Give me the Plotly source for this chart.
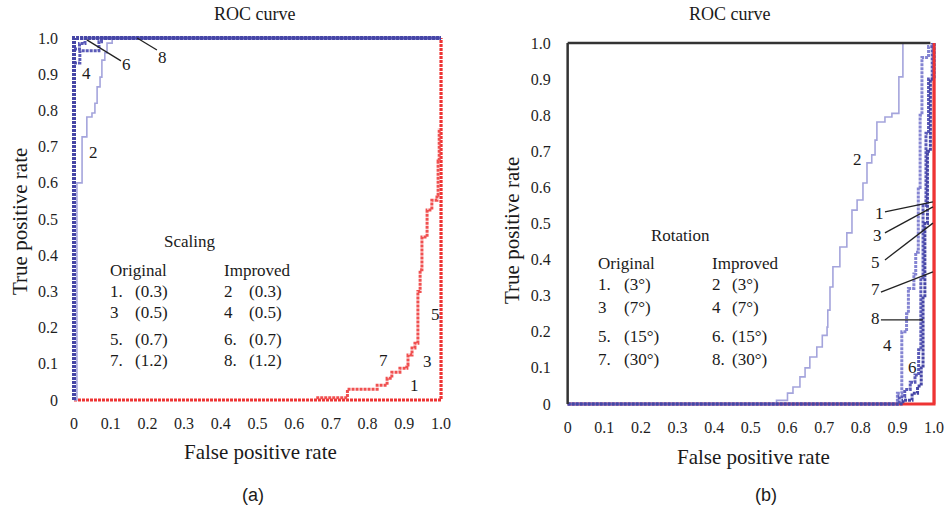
import plotly.graph_objects as go

# ---------------- data ----------------
TICK_VALS = [0, 0.1, 0.2, 0.3, 0.4, 0.5, 0.6, 0.7, 0.8, 0.9, 1.0]
TICK_TEXT = ["0", "0.1", "0.2", "0.3", "0.4", "0.5", "0.6", "0.7", "0.8", "0.9", "1.0"]

# Panel (a) Scaling
a_orig1_fpr = [0, 1.0, 1.0]
a_orig1_tpr = [0, 0, 1.0]
a_orig7_fpr = [0.66, 0.745, 0.826, 0.853, 0.866, 0.888, 0.907, 0.91, 0.921, 0.929, 0.937, 0.943, 0.948, 0.962, 0.975, 0.989, 0.992, 0.995]
a_orig7_tpr = [0.006, 0.03, 0.041, 0.06, 0.077, 0.088, 0.097, 0.124, 0.144, 0.157, 0.30, 0.36, 0.45, 0.525, 0.552, 0.566, 0.66, 0.75]
a_imp8_fpr = [0, 0, 1.0]
a_imp8_tpr = [0, 1.0, 1.0]
a_imp2_fpr = [0, 0.008, 0.022, 0.035, 0.049, 0.057, 0.063, 0.071, 0.076, 0.084, 0.09, 0.104, 1.0]
a_imp2_tpr = [0, 0.6, 0.727, 0.782, 0.793, 0.82, 0.865, 0.892, 0.939, 0.959, 0.986, 1.0, 1.0]
a_imp4_fpr = [0, 0.016, 0.068, 0.075, 1.0]
a_imp4_tpr = [0.931, 0.965, 0.99, 1.0, 1.0]
a_imp6_fpr = [0, 0.015, 0.03, 1.0]
a_imp6_tpr = [0.97, 0.985, 1.0, 1.0]

# Panel (b) Rotation
b_orig_fpr = [0, 1.0, 1.0]
b_orig_tpr = [0, 0, 1.0]
b_imp2_fpr = [0, 0.57, 0.6, 0.615, 0.634, 0.648, 0.661, 0.68, 0.695, 0.708, 0.71, 0.716, 0.724, 0.743, 0.762, 0.776, 0.79, 0.806, 0.817, 0.83, 0.839, 0.844, 0.866, 0.885, 0.904, 0.915]
b_imp2_tpr = [0, 0.01, 0.03, 0.047, 0.075, 0.1, 0.13, 0.158, 0.19, 0.213, 0.26, 0.324, 0.38, 0.435, 0.474, 0.537, 0.565, 0.612, 0.668, 0.69, 0.731, 0.781, 0.795, 0.805, 0.906, 1.0]
b_imp4_fpr = [0, 0.9, 0.912, 0.925, 0.93, 0.945, 0.95, 0.957, 0.962, 0.967, 0.985, 1.0]
b_imp4_tpr = [0, 0.03, 0.2, 0.25, 0.32, 0.36, 0.42, 0.6, 0.8, 0.96, 0.99, 1.0]
b_imp6_fpr = [0, 0.905, 0.92, 0.935, 0.948, 0.958, 0.964, 0.97, 0.978, 0.985, 0.995]
b_imp6_tpr = [0, 0.02, 0.04, 0.06, 0.08, 0.15, 0.35, 0.55, 0.75, 0.9, 1.0]
b_imp8_fpr = [0, 0.88, 0.915, 0.94, 0.955, 0.965, 0.97, 0.975, 0.982, 0.99, 1.0]
b_imp8_tpr = [0, 0.0, 0.01, 0.03, 0.05, 0.1, 0.3, 0.5, 0.7, 0.9, 1.0]

# legend text
a_nums_orig = ["1.", "3", "5.", "7."]
a_vals_orig = ["(0.3)", "(0.5)", "(0.7)", "(1.2)"]
a_nums_imp = ["2", "4", "6.", "8."]
a_vals_imp = ["(0.3)", "(0.5)", "(0.7)", "(1.2)"]
b_nums_orig = ["1.", "3", "5.", "7."]
b_vals_orig = ["(3°)", "(7°)", "(15°)", "(30°)"]
b_nums_imp = ["2", "4", "6.", "8."]
b_vals_imp = ["(3°)", "(7°)", "(15°)", "(30°)"]

# ---------------- style ----------------
SERIF = "Liberation Serif"
SANS = "Liberation Sans"
RED = "#ee3434"
RED_DOT = "#f05050"
BLUE = "#4646a6"
BLUE_MID = "#5a5ab8"
BLUE_LIGHT = "#8484d2"
LAVENDER = "#a4a4dc"
DOT = "3px,1px"
FS_TICK = 16
FS_LEG = 17
FS_LAB = 17

fig = go.Figure()

def add(x, y, color, width, dash="solid", xa="x", ya="y", shape="hv"):
    fig.add_trace(go.Scatter(x=x, y=y, mode="lines", xaxis=xa, yaxis=ya,
                             line=dict(color=color, width=width, dash=dash, shape=shape),
                             showlegend=False, hoverinfo="skip"))

# Panel (a)
add(a_orig1_fpr, a_orig1_tpr, RED, 3.2, DOT, shape="linear")
add(a_orig7_fpr, a_orig7_tpr, RED_DOT, 3, DOT)
add(a_imp2_fpr, a_imp2_tpr, LAVENDER, 1.6)
add(a_imp4_fpr, a_imp4_tpr, BLUE_MID, 3, DOT)
add(a_imp6_fpr, a_imp6_tpr, BLUE_MID, 3, DOT)
add(a_imp8_fpr, a_imp8_tpr, BLUE, 4, DOT, shape="linear")

# Panel (b)
add(b_orig_fpr, b_orig_tpr, RED, 3, "solid", "x2", "y2", shape="linear")
add(b_imp2_fpr, b_imp2_tpr, LAVENDER, 1.6, "solid", "x2", "y2")
add(b_imp4_fpr, b_imp4_tpr, BLUE_LIGHT, 3, DOT, "x2", "y2")
add(b_imp6_fpr, b_imp6_tpr, BLUE_MID, 3, DOT, "x2", "y2")
add(b_imp8_fpr, b_imp8_tpr, BLUE, 3, DOT, "x2", "y2")
# right edge of the original curves (x = 1) drawn again on top
add(b_orig_fpr[1:], b_orig_tpr[1:], RED, 2.6, "solid", "x2", "y2", shape="linear")

axis_common = dict(range=[-0.01, 1.01], tickvals=TICK_VALS, ticktext=TICK_TEXT,
                   showgrid=False, zeroline=False, showline=False, automargin=False,
                   ticks="outside", ticklen=5, tickcolor="rgba(0,0,0,0)",
                   tickfont=dict(family=SERIF, size=FS_TICK, color="#1e1e1e"), fixedrange=True)

fig.update_layout(
    width=949, height=510, autosize=False,
    margin=dict(l=0, r=0, t=0, b=0, pad=0, autoexpand=False),
    paper_bgcolor="white", plot_bgcolor="white",
    xaxis=dict(axis_common, domain=[0.0741, 0.4686], anchor="y"),
    yaxis=dict(axis_common, domain=[0.2086, 0.9325], anchor="x", ticklen=8),
    xaxis2=dict(axis_common, domain=[0.5943, 0.9881], anchor="y2"),
    yaxis2=dict(axis_common, domain=[0.2008, 0.9228], anchor="x2", ticklen=9),
)

# black frame in panel (b)
fig.add_shape(type="line", xref="x2", yref="y2", x0=0, x1=0, y0=0, y1=1.0,
              line=dict(color="#333333", width=2.5))
fig.add_shape(type="line", xref="x2", yref="y2", x0=0, x1=0.99, y0=1.0, y1=1.0,
              line=dict(color="#333333", width=2.5))

ann = []

def txt(x, y, s, xref, yref, size=15, xanchor="center", family=SERIF, angle=0):
    ann.append(dict(x=x, y=y, xref=xref, yref=yref, text=s, showarrow=False,
                    xanchor=xanchor, yanchor="middle", textangle=angle,
                    font=dict(family=family, size=size, color="#1a1a1a")))

def pointer(x0, y0, x1, y1, xr, yr):
    fig.add_shape(type="line", xref=xr, yref=yr, x0=x0, y0=y0, x1=x1, y1=y1,
                  line=dict(color="#222222", width=1.3))

# titles & axis titles
txt(0.2687, 0.9725, "ROC curve", "paper", "paper", 18)
txt(0.769, 0.9725, "ROC curve", "paper", "paper", 18)
txt(0.275, 0.1137, "False positive rate", "paper", "paper", 21)
txt(0.7945, 0.1039, "False positive rate", "paper", "paper", 21)
txt(0.0211, 0.5647, "True positive rate", "paper", "paper", 21, angle=-90)
txt(0.5395, 0.549, "True positive rate", "paper", "paper", 21, angle=-90)
txt(0.2666, 0.0294, "(a)", "paper", "paper", 18, family=SANS)
txt(0.8072, 0.0294, "(b)", "paper", "paper", 18, family=SANS)

# panel (a) legend text
txt(0.316, 0.439, "Scaling", "x", "y", FS_LEG)
txt(0.093, 0.359, "Original", "x", "y", FS_LEG, "left")
txt(0.403, 0.359, "Improved", "x", "y", FS_LEG, "left")
a_rows = [0.301, 0.243, 0.166, 0.108]
for i, yy in enumerate(a_rows):
    txt(0.093, yy, a_nums_orig[i], "x", "y", FS_LEG, "left")
    txt(0.161, yy, a_vals_orig[i], "x", "y", FS_LEG, "left")
    txt(0.403, yy, a_nums_imp[i], "x", "y", FS_LEG, "left")
    txt(0.471, yy, a_vals_imp[i], "x", "y", FS_LEG, "left")

# panel (a) curve labels
txt(0.035, 0.903, "4", "x", "y", FS_LAB)
txt(0.052, 0.685, "2", "x", "y", FS_LAB)
txt(0.142, 0.926, "6", "x", "y", FS_LAB)
txt(0.24, 0.945, "8", "x", "y", FS_LAB)
pointer(0.035, 0.995, 0.128, 0.937, "x", "y")
pointer(0.172, 1.0, 0.226, 0.967, "x", "y")
txt(0.985, 0.235, "5", "x", "y", FS_LAB)
txt(0.962, 0.105, "3", "x", "y", FS_LAB)
txt(0.842, 0.11, "7", "x", "y", FS_LAB)
txt(0.929, 0.04, "1", "x", "y", FS_LAB)

# panel (b) legend text
txt(0.309, 0.468, "Rotation", "x2", "y2", FS_LEG)
txt(0.077, 0.39, "Original", "x2", "y2", FS_LEG, "left")
txt(0.388, 0.39, "Improved", "x2", "y2", FS_LEG, "left")
b_rows = [0.33, 0.266, 0.186, 0.122]
for i, yy in enumerate(b_rows):
    txt(0.077, yy, b_nums_orig[i], "x2", "y2", FS_LEG, "left")
    txt(0.148, yy, b_vals_orig[i], "x2", "y2", FS_LEG, "left")
    txt(0.388, yy, b_nums_imp[i], "x2", "y2", FS_LEG, "left")
    txt(0.443, yy, b_vals_imp[i], "x2", "y2", FS_LEG, "left")

# panel (b) curve labels
txt(0.792, 0.676, "2", "x2", "y2", FS_LAB)
txt(0.85, 0.529, "1", "x2", "y2", FS_LAB)
txt(0.845, 0.468, "3", "x2", "y2", FS_LAB)
txt(0.84, 0.393, "5", "x2", "y2", FS_LAB)
txt(0.84, 0.318, "7", "x2", "y2", FS_LAB)
txt(0.84, 0.236, "8", "x2", "y2", FS_LAB)
txt(0.874, 0.163, "4", "x2", "y2", FS_LAB)
txt(0.94, 0.1, "6", "x2", "y2", FS_LAB)
pointer(0.866, 0.532, 0.997, 0.56, "x2", "y2")
pointer(0.866, 0.474, 0.997, 0.546, "x2", "y2")
pointer(0.866, 0.399, 0.997, 0.501, "x2", "y2")
pointer(0.855, 0.31, 0.997, 0.366, "x2", "y2")
pointer(0.855, 0.233, 0.97, 0.233, "x2", "y2")

fig.update_layout(annotations=ann)

fig.write_html("out.html", config={"responsive": False, "displayModeBar": False},
               post_script="document.body.style.margin='0';document.body.style.overflow='hidden';")
